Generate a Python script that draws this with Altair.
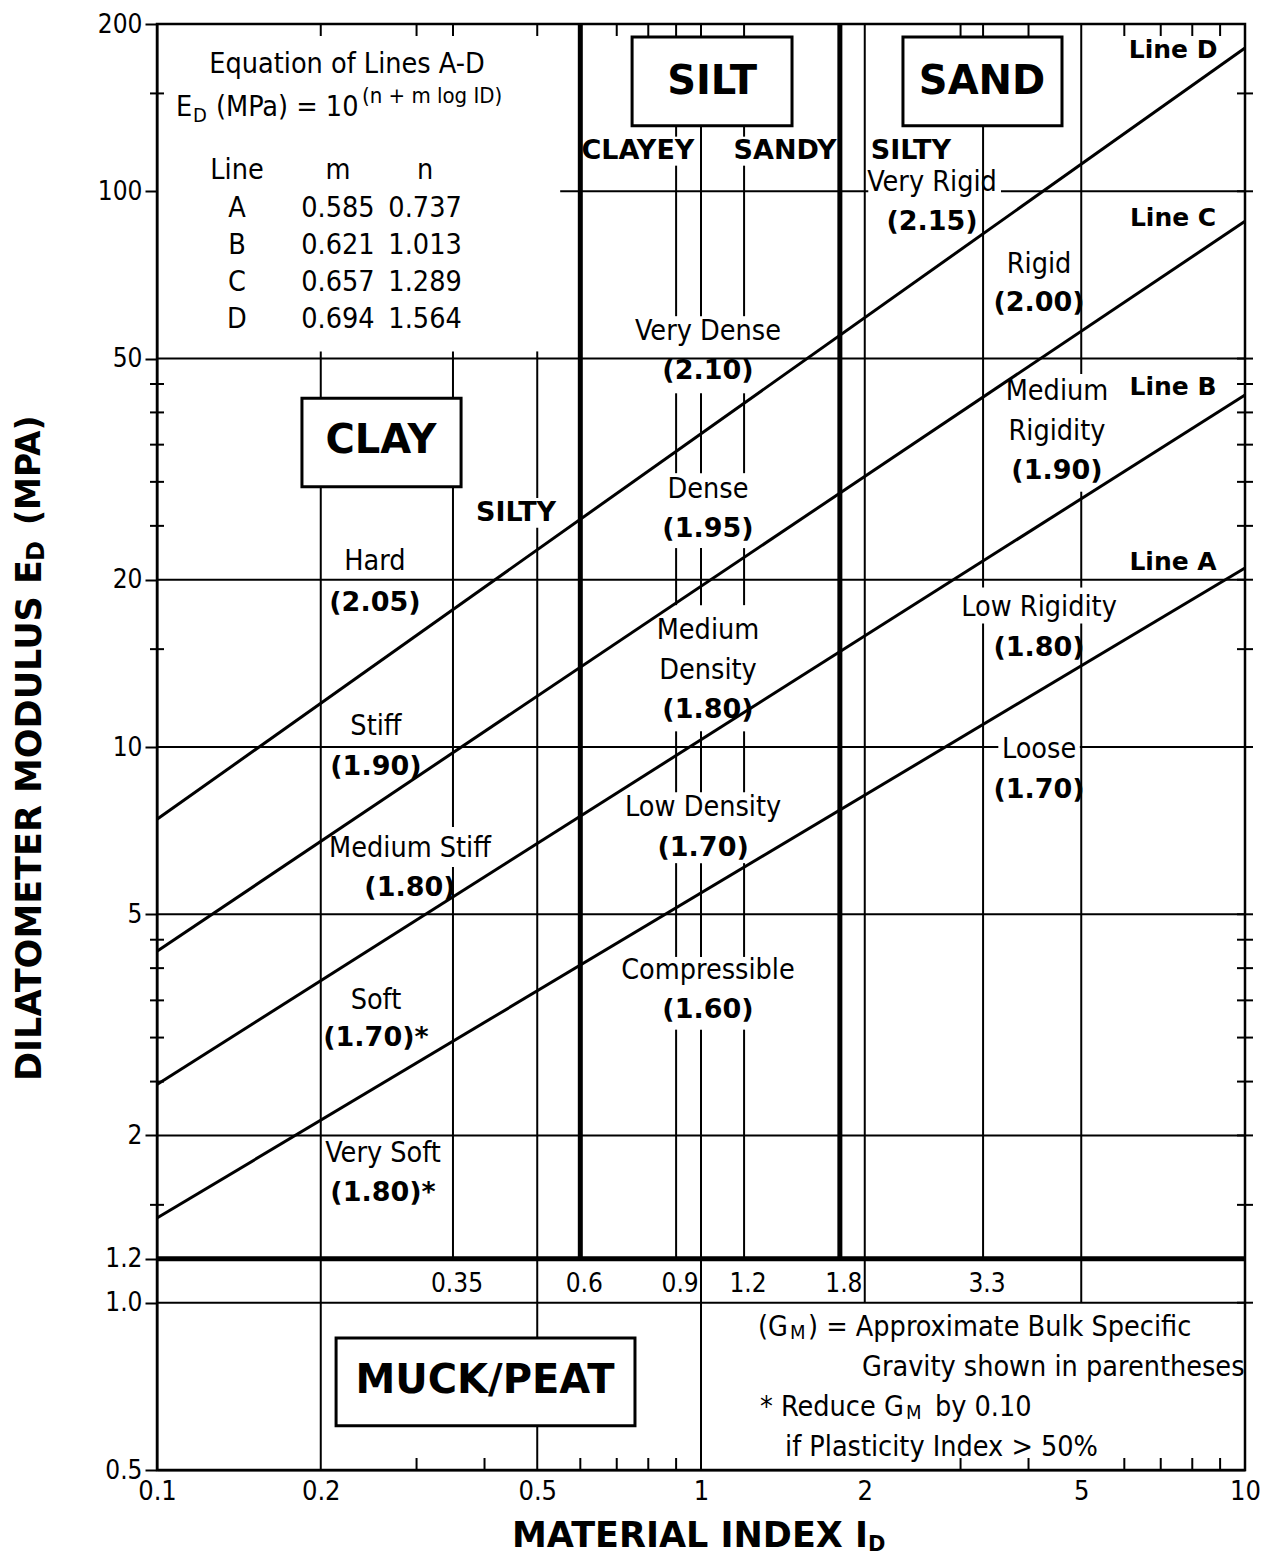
import altair as alt
import pandas as pd

W, H = 1088, 1446
COND = "DejaVu Sans Condensed, DejaVu Sans"
BOLD = "DejaVu Sans"

# ---------------- axes ----------------
x_ticks = [0.1, 0.2, 0.5, 1, 2, 5, 10]
y_ticks = [0.5, 1.0, 1.2, 2, 5, 10, 20, 50, 100, 200]
y_minor = [150, 45, 40, 35, 30, 25, 15, 4.5, 4, 3.5, 3, 2.5, 1.5]
y_right_major = [100, 50, 20, 10, 5, 2, 1.0]
x_minor_bottom = [0.3, 0.4, 0.6, 0.7, 0.8, 0.9, 3, 4, 6, 7, 8, 9]
x_minor_top = [0.2, 0.3, 0.35, 0.5, 0.7, 0.8, 0.9, 1, 1.2, 3, 4, 6, 7, 8, 9]

# ---------------- lines A-D (E_D at I_D = 0.1 and I_D = 10) ----------------
line_names = ["A", "B", "C", "D"]
line_m = ["0.585", "0.621", "0.657", "0.694"]
line_n = ["0.737", "1.013", "1.289", "1.564"]
line_id_start = [0.1, 0.1, 0.1, 0.1]
line_id_end = [10, 10, 10, 10]
line_ed_start = [1.42, 2.47, 4.29, 7.41]
line_ed_end = [21.0, 43.0, 88.3, 181.0]

# ---------------- thin horizontal boundaries ----------------
h_y = [100, 100, 50, 20, 10, 10, 5, 2, 1.0]
h_x1 = [0.551, 3.56, 0.1, 0.1, 0.1, 4.97, 0.1, 0.1, 0.1]
h_x2 = [2.03, 10, 10, 10, 3.52, 10, 10, 10, 10]

# ---------------- thin vertical boundaries (segments) ----------------
v_x = [0.2,
       0.35, 0.35,
       0.5, 0.5,
       0.9, 0.9, 0.9, 0.9, 0.9, 0.9, 0.9,
       1.0, 1.0, 1.0, 1.0, 1.0, 1.0,
       1.2, 1.2, 1.2, 1.2, 1.2, 1.2, 1.2,
       2.0,
       3.3, 3.3,
       5.0, 5.0, 5.0]
v_top = [51.5,
         51.5, 6.08,
         51.5, 24.8,
         130.6, 111.2, 43.3, 22.8, 10.67, 6.18, 3.10,
         130.6, 43.3, 22.8, 10.67, 6.18, 3.10,
         130.6, 111.2, 43.3, 22.8, 10.67, 6.18, 3.10,
         200,
         200, 16.68,
         200, 28.8, 16.68]
v_bot = [0.5,
         7.18, 1.2,
         28.06, 0.5,
         125.4, 59.6, 31.1, 18.0, 8.29, 4.19, 1.2,
         59.6, 31.1, 18.0, 8.29, 4.19, 0.5,
         125.4, 59.6, 31.1, 18.0, 8.29, 4.19, 1.2,
         1.0,
         19.36, 1.2,
         46.9, 19.36, 1.0]

# ---------------- thick boundaries ----------------
thick_v_x = [0.6, 1.8]
thick_v_top = [200, 200]
thick_v_bot = [1.2, 1.2]
thick_h_y = [1.2]

# ---------------- soil boxes ----------------
box_names = ["CLAY", "SILT", "SAND", "MUCK/PEAT"]
box_x1 = [0.1847, 0.747, 2.351, 0.2134]
box_x2 = [0.3622, 1.470, 4.609, 0.7562]
box_y1 = [42.4, 189.6, 189.6, 0.864]
box_y2 = [29.4, 131.2, 131.2, 0.6006]
box_lx = [0.258, 1.048, 3.286, 0.4008]
box_ly = [35.5, 157.3, 157.3, 0.7233]

# ---------------- normal labels ----------------
norm_t = ["Equation of Lines A-D", "Line", "m", "n",
          "Very Rigid", "Rigid", "Medium", "Rigidity", "Low Rigidity", "Loose",
          "Very Dense", "Dense", "Medium", "Density", "Low Density", "Compressible",
          "Hard", "Stiff", "Medium Stiff", "Soft", "Very Soft"]
norm_x = [0.2235, 0.1403, 0.2151, 0.311,
          2.659, 4.182, 4.512, 4.512, 4.182, 4.182,
          1.030, 1.030, 1.030, 1.030, 1.009, 1.030,
          0.2515, 0.2526, 0.2918, 0.2526, 0.2603]
norm_y = [169.5, 109.4, 109.4, 109.4,
          104.1, 73.9, 43.7, 37.0, 17.89, 9.90,
          56.0, 29.1, 16.26, 13.78, 7.79, 3.97,
          21.6, 10.89, 6.58, 3.51, 1.857]
table_y = [93.5, 80.2, 68.6, 58.8]

# ---------------- bulk specific gravity labels (bold) ----------------
gm_t = ["(2.15)", "(2.00)", "(1.90)", "(1.80)", "(1.70)",
        "(2.10)", "(1.95)", "(1.80)", "(1.70)", "(1.60)",
        "(2.05)", "(1.90)", "(1.80)", "(1.70)*", "(1.80)*"]
gm_x = [2.659, 4.182, 4.512, 4.182, 4.182,
        1.030, 1.030, 1.030, 1.009, 1.030,
        0.2515, 0.2526, 0.2918, 0.2526, 0.2603]
gm_y = [88.2, 62.9, 31.4, 15.09, 8.36,
        47.4, 24.7, 11.68, 6.58, 3.37,
        18.18, 9.19, 5.58, 2.99, 1.573]

sub_t = ["CLAYEY", "SANDY", "SILTY", "SILTY"]
sub_x = [0.7658, 1.427, 2.432, 0.4571]
sub_y = [118.3, 118.3, 118.3, 26.4]

line_lab_t = ["Line D", "Line C", "Line B", "Line A"]
line_lab_x = [7.375, 7.375, 7.375, 7.375]
line_lab_y = [179.7, 89.7, 44.4, 21.5]

# boundary values of I_D written under the 1.2 MPa line
id_bounds = [0.35, 0.6, 0.9, 1.2, 1.8, 3.3]
id_bounds_y = [1.08] * 6

# equation and notes (left aligned pieces, sub/superscripts)
eq_t = ["E", "(MPa) = 10", "(G", ") = Approximate Bulk Specific",
        "Gravity shown in parentheses", "* Reduce G", "by 0.10",
        "if Plasticity Index > 50%"]
eq_x = [0.1084, 0.1284, 1.273, 1.573, 1.977, 1.284, 2.692, 1.427]
eq_y = [141.8, 141.8, 0.904, 0.904, 0.766, 0.650, 0.650, 0.551]
small_t = ["D", "M", "M"]
small_x = [0.1165, 1.457, 2.381]
small_y = [136.7, 0.882, 0.634]
sup_t = ["(n + m log ID)"]
sup_x = [0.2381]
sup_y = [148.5]

# ======================================================================
xs = alt.Scale(type="log", domain=[0.1, 10], nice=False)
ys = alt.Scale(type="log", domain=[0.5, 200], nice=False)

x_axis = alt.Axis(values=x_ticks, format="~g", ticks=False, labelPadding=8,
                  labelFont=COND, labelFontSize=27, labelColor="black",
                  domainColor="black", domainWidth=2, grid=False, title=None,
                  labelOverlap=False, labelFlush=False)
y_axis = alt.Axis(values=y_ticks,
                  labelExpr="datum.value < 2 ? format(datum.value, '.1f') : format(datum.value, 'd')",
                  tickSize=12, tickWidth=2, tickColor="black", labelPadding=3,
                  labelFont=COND, labelFontSize=26, labelColor="black",
                  domainColor="black", domainWidth=2, grid=False, title=None,
                  labelOverlap=False, labelFlush=False)


def XQ(f):
    return alt.X(f, type="quantitative", scale=xs, axis=x_axis, title=None)


def YQ(f):
    return alt.Y(f, type="quantitative", scale=ys, axis=y_axis, title=None)


layers = []

# horizontal thin lines
df_h = pd.DataFrame({"y": h_y, "x1": h_x1, "x2": h_x2})
layers.append(alt.Chart(df_h).mark_rule(color="black", strokeWidth=2).encode(
    x=XQ("x1"), x2="x2:Q", y=YQ("y")))

# vertical thin segments
df_v = pd.DataFrame({"x": v_x, "top": v_top, "bot": v_bot})
layers.append(alt.Chart(df_v).mark_rule(color="black", strokeWidth=2).encode(
    x=XQ("x"), y=YQ("top"), y2="bot:Q"))

# thick lines
df_tv = pd.DataFrame({"x": thick_v_x, "top": thick_v_top, "bot": thick_v_bot})
layers.append(alt.Chart(df_tv).mark_rule(color="black", strokeWidth=5).encode(
    x=XQ("x"), y=YQ("top"), y2="bot:Q"))
df_th = pd.DataFrame({"y": thick_h_y, "x1": [0.1], "x2": [10]})
layers.append(alt.Chart(df_th).mark_rule(color="black", strokeWidth=5).encode(
    x=XQ("x1"), x2="x2:Q", y=YQ("y")))

# lines A-D
df_l = pd.DataFrame({"name": line_names, "x1": line_id_start, "x2": line_id_end,
                     "y1": line_ed_start, "y2": line_ed_end})
layers.append(alt.Chart(df_l).mark_rule(color="black", strokeWidth=3).encode(
    x=XQ("x1"), x2="x2:Q", y=YQ("y1"), y2="y2:Q"))

# minor ticks
df_ym = pd.DataFrame({"v": y_minor})
layers.append(alt.Chart(df_ym).mark_rule(color="black", strokeWidth=2).encode(
    y=YQ("v"), x=alt.value(-7), x2=alt.value(7)))
df_yr = pd.DataFrame({"v": y_minor + y_right_major})
layers.append(alt.Chart(df_yr).mark_rule(color="black", strokeWidth=2).encode(
    y=YQ("v"), x=alt.value(W - 8), x2=alt.value(W + 8)))
df_xb = pd.DataFrame({"v": x_minor_bottom})
layers.append(alt.Chart(df_xb).mark_rule(color="black", strokeWidth=2).encode(
    x=XQ("v"), y=alt.value(H), y2=alt.value(H - 12)))
df_xt = pd.DataFrame({"v": x_minor_top})
layers.append(alt.Chart(df_xt).mark_rule(color="black", strokeWidth=2).encode(
    x=XQ("v"), y=alt.value(0), y2=alt.value(12)))

# boxes
df_b = pd.DataFrame({"n": box_names, "x1": box_x1, "x2": box_x2, "y1": box_y1, "y2": box_y2,
                     "lx": box_lx, "ly": box_ly})
layers.append(alt.Chart(df_b).mark_rect(fill="white", stroke="black", strokeWidth=3).encode(
    x=XQ("x1"), x2="x2:Q", y=YQ("y1"), y2="y2:Q"))
layers.append(alt.Chart(df_b).mark_text(font=BOLD, fontSize=40, fontWeight="bold", color="black",
                                         baseline="middle", align="center").encode(
    x=XQ("lx"), y=YQ("ly"), text="n:N"))


def tlayer(texts, xv, yv, font, size, weight="normal", align="center", dx=0):
    df = pd.DataFrame({"t": texts, "x": xv, "y": yv})
    return alt.Chart(df).mark_text(font=font, fontSize=size, fontWeight=weight, color="black",
                                   align=align, baseline="middle", dx=dx).encode(
        x=XQ("x"), y=YQ("y"), text="t:N")


NS = 28.5
layers.append(tlayer(norm_t, norm_x, norm_y, COND, NS))
layers.append(tlayer(line_names, [0.1403] * 4, table_y, COND, NS))
layers.append(tlayer(line_m, [0.2151] * 4, table_y, COND, NS))
layers.append(tlayer(line_n, [0.311] * 4, table_y, COND, NS))
layers.append(tlayer(gm_t, gm_x, gm_y, BOLD, 27, "bold"))
layers.append(tlayer(sub_t, sub_x, sub_y, BOLD, 27, "bold"))
layers.append(tlayer(line_lab_t, line_lab_x, line_lab_y, BOLD, 25, "bold"))
layers.append(tlayer([str(v) for v in id_bounds], id_bounds, id_bounds_y, COND, 26, dx=4))
layers.append(tlayer(eq_t, eq_x, eq_y, COND, NS, align="left"))
layers.append(tlayer(small_t, small_x, small_y, COND, 20, align="left"))
layers.append(tlayer(sup_t, sup_x, sup_y, COND, 22, align="left"))


def ptext(t, px, py, size, angle=0, align="left"):
    return alt.Chart(pd.DataFrame({"t": [t]})).mark_text(
        font=BOLD, fontSize=size, fontWeight="bold", color="black", align=align,
        baseline="middle", angle=angle).encode(x=alt.value(px), y=alt.value(py), text="t:N")


# axis titles
layers.append(ptext("MATERIAL INDEX I", 355, 1512, 35))
layers.append(ptext("D", 711, 1521, 21))
layers.append(ptext("DILATOMETER MODULUS E", -127, 1057, 35, angle=270))
layers.append(ptext("D", -120, 537, 24, angle=270))
layers.append(ptext("(MPA)", -127, 501, 33, angle=270))

chart = alt.layer(*layers).properties(
    width=W, height=H,
    autosize=alt.AutoSizeParams(type="none"),
    padding={"left": 149, "top": 16, "right": 22, "bottom": 88},
).configure_view(stroke="black", strokeWidth=2.5)

chart.save("out.html", embed_options={"renderer": "svg", "actions": False})
